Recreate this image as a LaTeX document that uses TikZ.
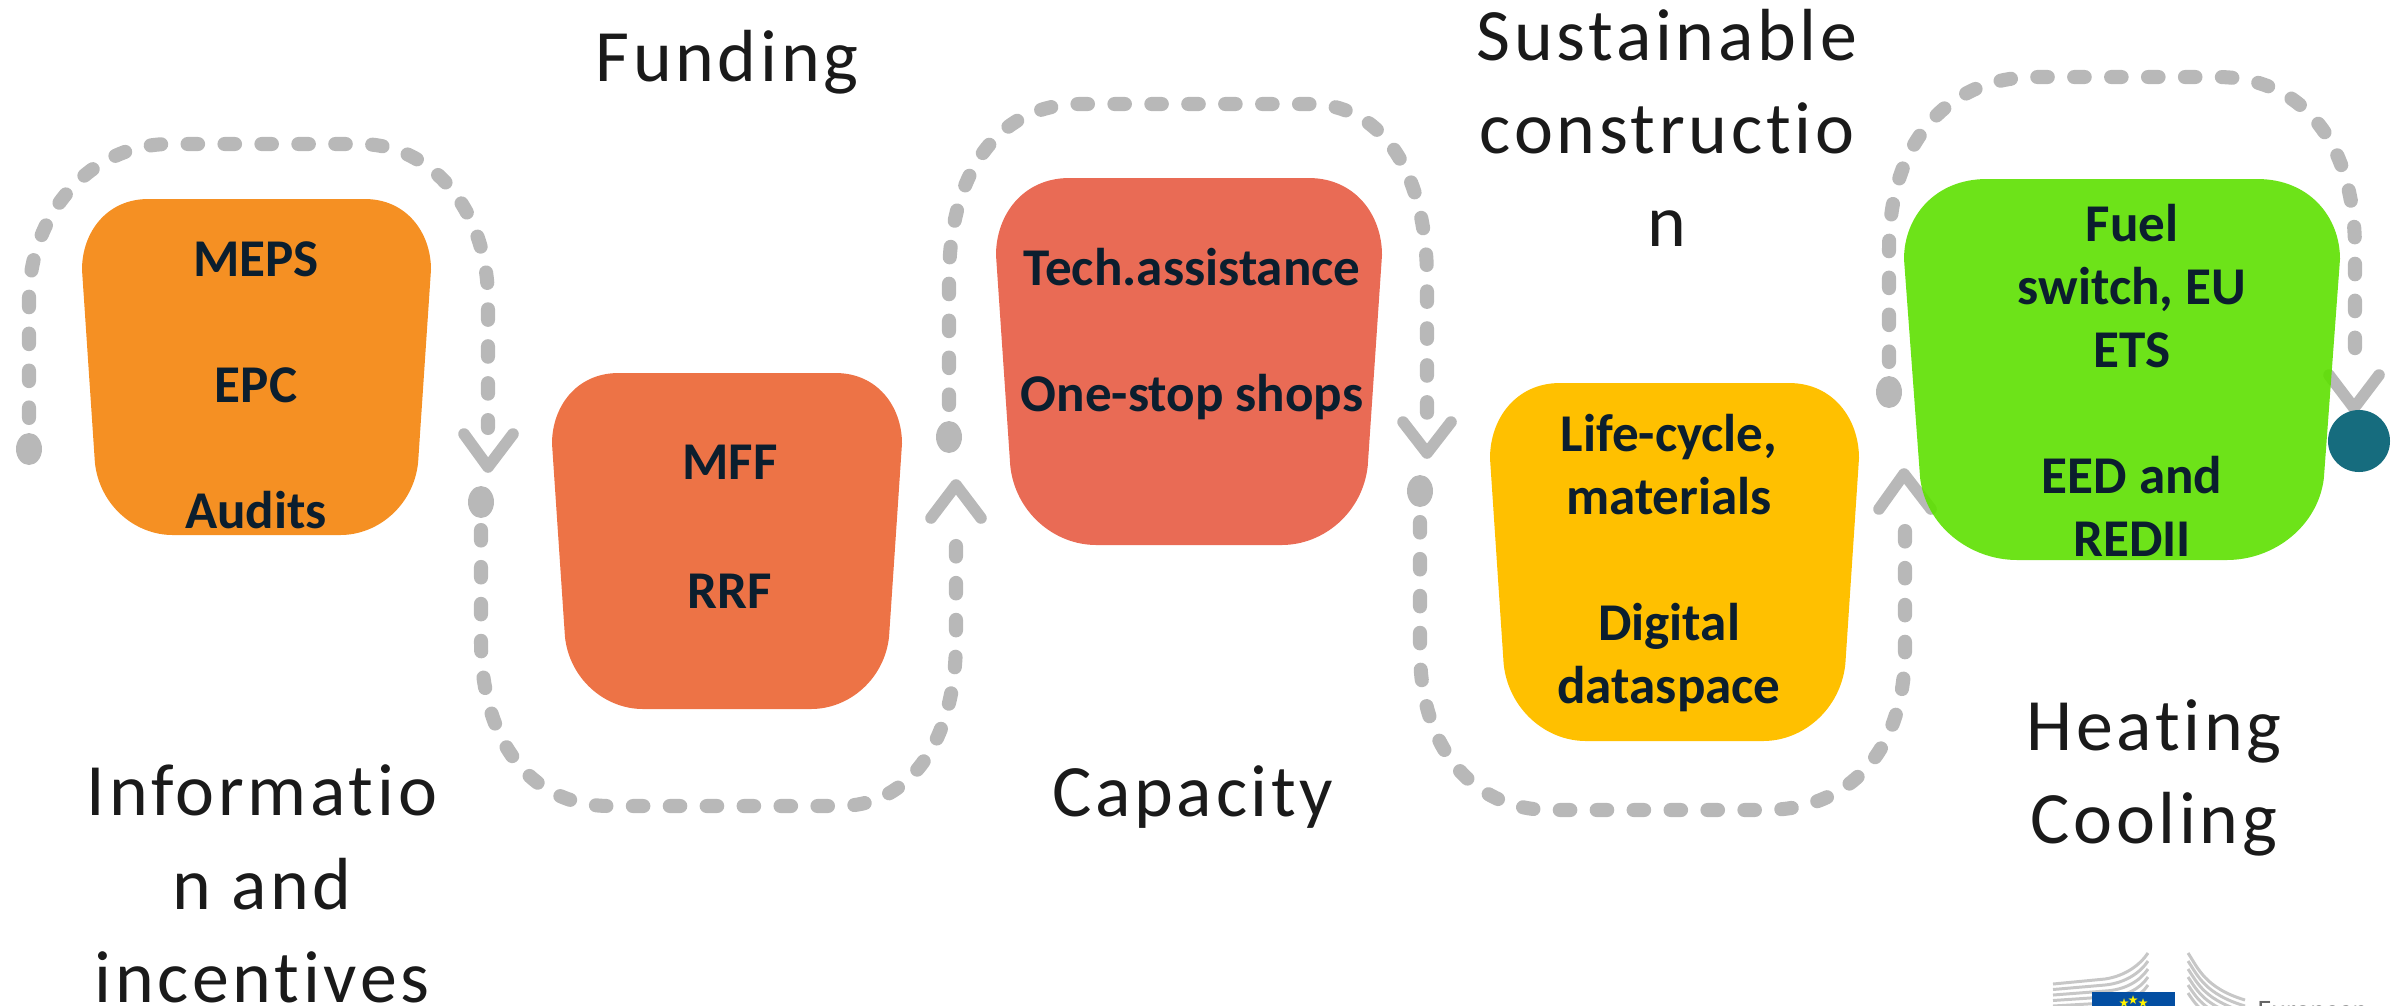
\documentclass[tikz,border=0pt]{standalone}
\usepackage{fontspec}
\usepackage{xcolor}
\setmainfont{Carlito}
\newfontfamily\wordfont[LetterSpace=5,RawFeature={-liga;-dlig}]{Carlito}
\newfontfamily\starfont{DejaVu Sans}

\definecolor{dotgray}{HTML}{B8B8B8}
\definecolor{cardorange}{HTML}{F59023}
\definecolor{cardcoral}{HTML}{ED7346}
\definecolor{cardred}{HTML}{E96B55}
\definecolor{cardyellow}{HTML}{FFC000}
\definecolor{cardgreen}{HTML}{5DE000}
\definecolor{inkblue}{HTML}{0B1E2E}
\definecolor{endteal}{HTML}{166C7E}
\definecolor{flagblue}{HTML}{034EA2}
\definecolor{wordblack}{HTML}{1A1A1A}

\tikzset{
  route/.style={draw=dotgray,line width=4pt,line cap=round,dash pattern=on 3pt off 7.5pt},
  tip/.style={draw=dotgray,line width=3.3pt,line cap=round,line join=round},
  cardtext/.style={font=\fontsize{15.1}{17.9}\selectfont\bfseries,text=inkblue,align=center,inner sep=0pt},
  sidetext/.style={font=\fontsize{21}{26.5}\wordfont,text=wordblack,align=center,inner sep=0pt},
  startdot/.style={fill=dotgray},
  wing/.style={draw=black!22,line width=0.85pt},
  eustar/.style={text=yellow,font=\fontsize{3.5}{4}\starfont,inner sep=0pt},
}

% x y width height colour
\newcommand{\cardshape}[5]{%
  \fill[#5] ({#1+0.19*#3},#2) -- ({#1+0.81*#3},#2)
    .. controls ({#1+0.93*#3},#2) and ({#1+#3},{#2+0.10*#4}) .. ({#1+#3},{#2+0.21*#4})
    -- ({#1+0.963*#3},{#2+0.785*#4})
    .. controls ({#1+0.95*#3},{#2+0.91*#4}) and ({#1+0.85*#3},{#2+#4}) .. ({#1+0.74*#3},{#2+#4})
    -- ({#1+0.26*#3},{#2+#4})
    .. controls ({#1+0.15*#3},{#2+#4}) and ({#1+0.05*#3},{#2+0.91*#4}) .. ({#1+0.037*#3},{#2+0.785*#4})
    -- (#1,{#2+0.21*#4})
    .. controls (#1,{#2+0.10*#4}) and ({#1+0.07*#3},#2) .. ({#1+0.19*#3},#2) -- cycle;}

\begin{document}
\begin{tikzpicture}[x=0.01cm,y=-0.01cm]
    \useasboundingbox (0,0) rectangle (2405,1005);

    % route ends
    \coordinate (a1) at (29,449);
    \coordinate (a2) at (488,428);
    \coordinate (b1) at (481,502);
    \coordinate (b2) at (956,526);
    \coordinate (c1) at (949,437);
    \coordinate (c2) at (1427,420);
    \coordinate (d1) at (1420,491);
    \coordinate (d2) at (1905,518);
    \coordinate (e1) at (1889,392);
    \coordinate (e2) at (2355,368);

    % routes
    \draw[route] (29,418) -- (29,300) .. controls (29,215) and (90,144) .. (170,144)
      -- (360,144) .. controls (435,144) and (488,215) .. (488,300) -- (a2);
    \draw[route] (481,530) -- (481,640) .. controls (481,740) and (530,806) .. (610,806)
      -- (840,806) .. controls (910,806) and (956,740) .. (956,640) -- (b2);
    \draw[route] (949,405) -- (949,280) .. controls (949,170) and (1000,104) .. (1080,104)
      -- (1310,104) .. controls (1380,104) and (1427,170) .. (1427,280) -- (c2);
    \draw[route] (1420,522) -- (1420,650) .. controls (1420,750) and (1475,810) .. (1550,810)
      -- (1765,810) .. controls (1850,810) and (1905,750) .. (1905,650) -- (d2);
    \draw[route] (1889,362) -- (1889,250) .. controls (1889,140) and (1950,77) .. (2035,77)
      -- (2217,77) .. controls (2300,77) and (2355,140) .. (2355,250) -- (e2);

    % start dots
    \foreach \p in {a1,b1,c1,d1,e1}
      \fill[startdot] (\p) ellipse (13 and 16);

    % arrow tips
    \draw[tip] (464,434) -- (488,467) -- (513,434);
    \draw[tip] (931,518) -- (956,485) -- (981,518);
    \draw[tip] (1403,422) -- (1427,453) -- (1451,422);
    \draw[tip] (1879,509) -- (1904,474) -- (1931,509);
    \draw[tip] (2329,375) -- (2354,408) -- (2379,375);

    % cards
    \cardshape{82}{199}{349}{336}{cardorange}
    \cardshape{552}{373}{350}{336}{cardcoral}
    \cardshape{996}{178}{386}{367}{cardred}
    \cardshape{1490}{383}{369}{358}{cardyellow}
    \cardshape{1904}{179}{436}{381}{cardgreen,opacity=.9}

    \fill[endteal] (2359,441) circle (31);

    % card texts
    \node[cardtext] (audits) at (256,385) {MEPS\\~\\EPC\\~\\Audits};
    \node[cardtext] (funds) at (730,527) {MFF\\[1pt]~\\RRF};
    \node[cardtext] (help) at (1192,334) {Tech.assistance\\~\\One-stop shops};
    \node[cardtext] (life) at (1669,563) {Life-cycle,\\materials\\~\\Digital\\dataspace};
    \node[cardtext] (fuel) at (2132,380) {Fuel\\switch, EU\\ETS\\~\\EED and\\REDII};

    % side texts
    \node[sidetext] (funding) at (727,62) {Funding};
    \node[sidetext] (capacity) at (1193,797) {Capacity};
    \node[sidetext] (sustain) at (1667,128) {Sustainable\\constructio\\n};
    \node[sidetext] (heating) at (2154,778) {Heating\\Cooling};
    \node[sidetext] (info) at (262,884) {Informatio\\n and\\incentives};

    % logo, cut off at the page edge
    \foreach \k in {0,...,4}
      \draw[wing] (2053,{984+\k*5.5}) -- (2105,{979+\k*6}) .. controls (2125,{976+\k*7}) and (2140,{965+\k*8}) .. (2148,{953+\k*8});
    \foreach \k in {0,...,5}
      \draw[wing] (2188,{953+\k*8}) .. controls (2198,{968+\k*8}) and (2205,{988+\k*6}) .. (2245,{1000+\k*6});
    \fill[flagblue] (2092,992) rectangle (2175,1010);
    \node[eustar] (star1) at (2124,1003) {★};
    \node[eustar] (star2) at (2133,1000) {★};
    \node[eustar] (star3) at (2143,1003) {★};
    \node[anchor=base west,font=\fontsize{8}{8}\selectfont,text=black!60,inner sep=0pt] (eu) at (2257,1019) {European};
\end{tikzpicture}
\end{document}
